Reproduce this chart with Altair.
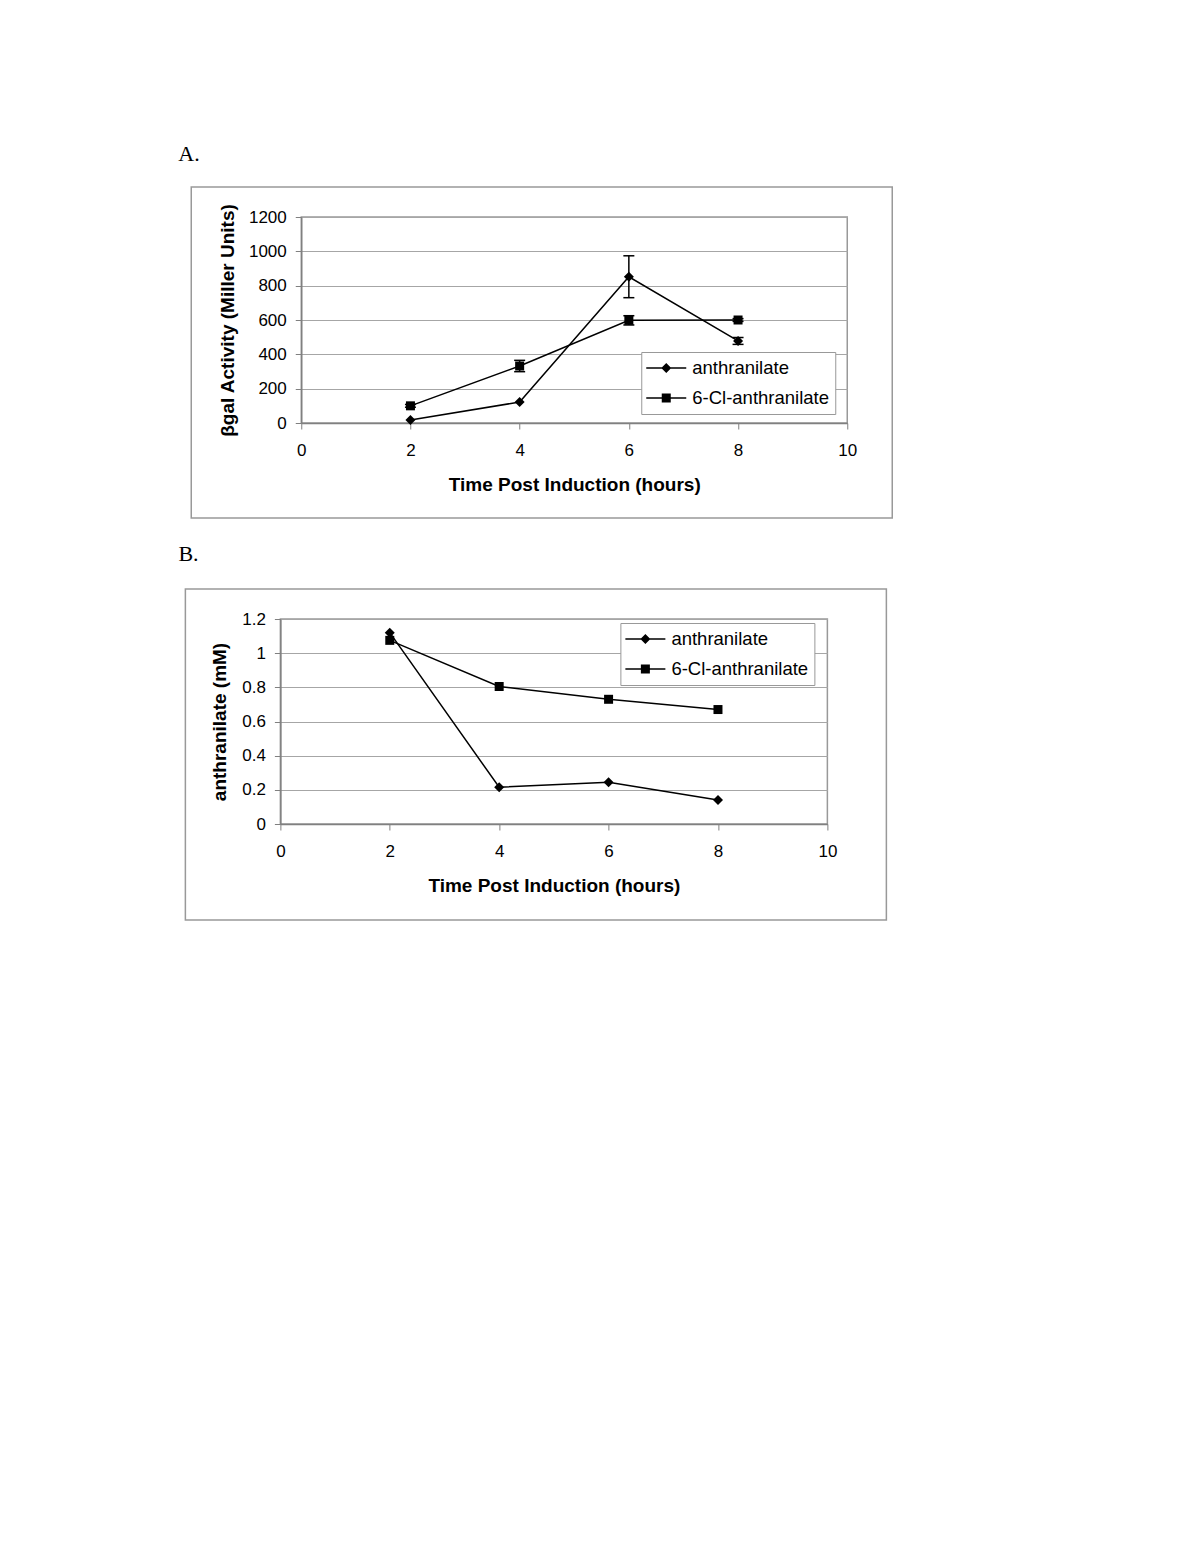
import altair as alt
import pandas as pd

# ---- data ----
time = [2, 4, 6, 8]
series_names = ["anthranilate", "6-Cl-anthranilate"]

# Panel A: beta-gal activity (Miller units) with error bars
a_anth = [18, 122, 852, 478]
a_anth_err = [0, 0, 122, 20]
a_cl = [100, 332, 598, 600]
a_cl_err = [8, 33, 27, 8]

# Panel B: anthranilate concentration (mM)
b_anth = [1.12, 0.215, 0.245, 0.14]
b_cl = [1.075, 0.805, 0.73, 0.67]

x_ticks = [0, 2, 4, 6, 8, 10]
a_y_ticks = [0, 200, 400, 600, 800, 1000, 1200]
b_y_ticks = [0, 0.2, 0.4, 0.6, 0.8, 1, 1.2]

x_title = "Time Post Induction (hours)"
a_y_title = "βgal Activity (Miller Units)"
b_y_title = "anthranilate (mM)"

FONT = "Liberation Sans"
# legend glyphs: a thin filled bar (the line) plus the marker, all filled
DIAMOND_LEG = "M-2,-0.08H2V0.08H-2Z M0,-0.5L0.5,0L0,0.5L-0.5,0Z"
SQUARE_LEG = "M-2,-0.08H2V0.08H-2Z M-0.45,-0.45H0.45V0.45H-0.45Z"
CAP = "M-1,0H1"


def long_df(anth, cl, anth_err=None, cl_err=None):
    rows = []
    for name, vals, errs in ((series_names[0], anth, anth_err), (series_names[1], cl, cl_err)):
        for i, t in enumerate(time):
            e = errs[i] if errs else 0
            rows.append({"time": t, "value": vals[i], "series": name,
                         "lo": vals[i] - e, "hi": vals[i] + e, "err": e})
    return pd.DataFrame(rows)


def panel(df, y_title, y_ticks, y_max, y_fmt, w, h, label, label_x, label_y, box,
          leg_x, leg_y, y_title_pad, with_err, right_extent=None):
    def X():
        return alt.X("time:Q", scale=alt.Scale(domain=[0, 10], nice=False, zero=False),
                     axis=alt.Axis(values=x_ticks, title=x_title, grid=False))

    def Y(field):
        return alt.Y(f"{field}:Q", scale=alt.Scale(domain=[0, y_max], nice=False),
                     axis=alt.Axis(values=y_ticks, title=y_title, format=y_fmt,
                                   titlePadding=y_title_pad))

    one = pd.DataFrame({"k": [0]})
    box_layer = alt.Chart(one).mark_rect(fill="transparent", stroke="#999999",
                                         strokeWidth=1.5).encode(
        x=alt.value(box[0]), x2=alt.value(box[1]), y=alt.value(box[2]), y2=alt.value(box[3]))
    label_layer = alt.Chart(one).mark_text(text=label, font="Liberation Serif", fontSize=22,
                                           align="left", baseline="alphabetic",
                                           color="black").encode(
        x=alt.value(label_x), y=alt.value(label_y))
    layers = [box_layer, label_layer]
    if right_extent is not None:
        # invisible spacer that only widens the panel's layout bounds
        layers.append(alt.Chart(one).mark_rect(fill="transparent", stroke="transparent").encode(
            x=alt.value(box[1]), x2=alt.value(right_extent), y=alt.value(0), y2=alt.value(10)))

    base = alt.Chart(df)
    line = base.mark_line(color="black", strokeWidth=1.5).encode(
        x=X(), y=Y("value"), detail="series:N")
    layers.append(line)

    if with_err:
        ed = base.transform_filter("datum.err > 0")
        rule = ed.mark_rule(color="black", strokeWidth=1.5).encode(
            x=X(), y=Y("lo"), y2="hi:Q")
        cap_lo = ed.mark_point(shape=CAP, size=121, filled=False, color="black",
                               strokeWidth=1.5, opacity=1).encode(x=X(), y=Y("lo"))
        cap_hi = ed.mark_point(shape=CAP, size=121, filled=False, color="black",
                               strokeWidth=1.5, opacity=1).encode(x=X(), y=Y("hi"))
        layers += [rule, cap_lo, cap_hi]

    pts_anth = base.transform_filter(alt.datum.series == series_names[0]).mark_point(
        filled=True, opacity=1, color="black", shape="diamond", size=100).encode(
        x=X(), y=Y("value"))
    pts_cl = base.transform_filter(alt.datum.series == series_names[1]).mark_point(
        filled=True, opacity=1, color="black", shape="square", size=81).encode(
        x=X(), y=Y("value"))

    # legend-only layer: no rows drawn, the legend is built from the fixed shape domain
    legend_layer = base.transform_filter("false").mark_point(
        filled=True, color="black", opacity=1, size=400).encode(
        x=X(), y=Y("value"),
        shape=alt.Shape(
            "series:N",
            scale=alt.Scale(domain=series_names, range=[DIAMOND_LEG, SQUARE_LEG]),
            legend=alt.Legend(
                title=None, orient="none", legendX=leg_x, legendY=leg_y,
                labelFont=FONT, labelFontSize=18.5, labelColor="black",
                symbolSize=400, symbolFillColor="black", symbolOpacity=1,
                symbolStrokeWidth=0,
                padding=6, rowPadding=10, symbolOffset=9, labelOffset=16,
                strokeColor="#999999", fillColor="white", cornerRadius=0,
            ),
        ),
    )
    layers += [pts_anth, pts_cl, legend_layer]
    return alt.layer(*layers).properties(width=w, height=h)


df_a = long_df(a_anth, a_cl, a_anth_err, a_cl_err)
df_b = long_df(b_anth, b_cl)

chart_a = panel(df_a, a_y_title, a_y_ticks, 1200, "d", 546, 206, "A.", -123, -56,
                (-110, 591, -30, 301), 340, 135, 11, True)
chart_b = panel(df_b, b_y_title, b_y_ticks, 1.2, ".1~f", 547, 205, "B.", -102, -58,
                (-95, 606, -30, 301), 340, 4, 12, False, right_extent=633)

chart = alt.vconcat(chart_a, chart_b, spacing=22, center=True).resolve_scale(
    shape="independent"
).resolve_legend(
    shape="independent"
).properties(
    padding={"left": 169, "top": 134, "right": 10, "bottom": 10}
).configure_axis(
    labelFont=FONT, labelFontSize=17, labelColor="black", labelFlush=False,
    titleFont=FONT, titleFontSize=19, titleFontWeight="bold", titleColor="black",
    domainColor="#808080", domainWidth=1.5, tickColor="#808080", tickSize=6,
    gridColor="#a6a6a6", gridWidth=1, labelPadding=9,
).configure_axisX(
    labelPadding=13, titlePadding=17,
).configure_view(
    stroke="#999999", strokeWidth=1.5,
)

chart.save("out.html", embed_options={"renderer": "svg", "actions": False})
